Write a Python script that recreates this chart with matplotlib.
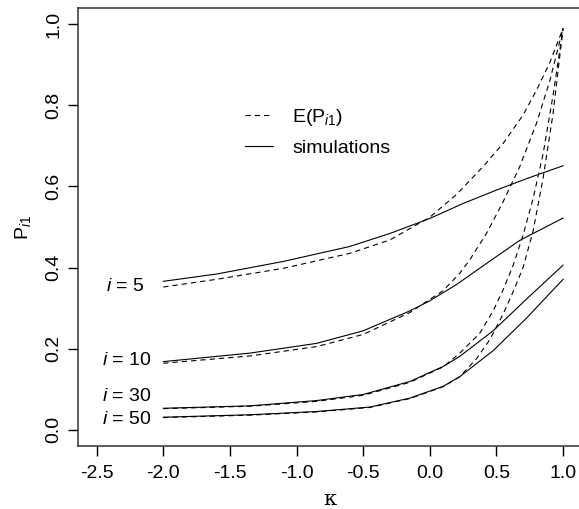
import matplotlib
matplotlib.use("Agg")
import matplotlib.pyplot as plt
from matplotlib.lines import Line2D

# values
# E(P_i1), dashed
k_e5 = [-2.0, -1.6, -1.1, -0.6, -0.3, 0.0, 0.2, 0.4, 0.55, 0.7, 0.8, 0.9, 1.0]
e5 = [0.352, 0.371, 0.398, 0.435, 0.468, 0.524, 0.580, 0.649, 0.706, 0.776, 0.837, 0.905, 0.99]
k_e10 = [-2.0, -1.35, -0.85, -0.5, -0.15, 0.1, 0.225, 0.3, 0.425, 0.55, 0.675, 0.8, 0.9, 1.0]
e10 = [0.164, 0.182, 0.205, 0.235, 0.289, 0.343, 0.386, 0.419, 0.484, 0.562, 0.649, 0.755, 0.86, 0.99]
k_e30 = [-2.0, -1.35, -0.85, -0.5, -0.15, 0.1, 0.225, 0.375, 0.475, 0.55, 0.625, 0.7, 0.775, 0.85, 0.925, 1.0]
e30 = [0.052, 0.058, 0.070, 0.085, 0.117, 0.155, 0.189, 0.238, 0.293, 0.345, 0.405, 0.480, 0.570, 0.680, 0.825, 0.99]
k_e50 = [-2.0, -1.35, -0.85, -0.45, -0.15, 0.1, 0.225, 0.35, 0.45, 0.55, 0.625, 0.7, 0.775, 0.85, 0.925, 1.0]
e50 = [0.030, 0.036, 0.044, 0.055, 0.077, 0.106, 0.131, 0.175, 0.222, 0.285, 0.34, 0.40, 0.49, 0.62, 0.78, 0.99]

# simulations, solid
k_s5 = [-2.0, -1.6, -1.1, -0.6, -0.3, 0.0, 0.25, 0.5, 0.75, 1.0]
s5 = [0.366, 0.384, 0.415, 0.452, 0.484, 0.521, 0.558, 0.591, 0.622, 0.651]
k_s10 = [-2.0, -1.35, -0.85, -0.5, -0.15, 0.0, 0.2, 0.425, 0.675, 1.0]
s10 = [0.168, 0.189, 0.213, 0.244, 0.293, 0.318, 0.358, 0.410, 0.467, 0.522]
k_s30 = [-2.0, -1.35, -0.85, -0.5, -0.15, 0.1, 0.225, 0.475, 0.725, 1.0]
s30 = [0.053, 0.059, 0.072, 0.087, 0.119, 0.156, 0.181, 0.244, 0.322, 0.406]
k_s50 = [-2.0, -1.35, -0.85, -0.45, -0.15, 0.1, 0.225, 0.475, 0.725, 1.0]
s50 = [0.031, 0.037, 0.045, 0.056, 0.078, 0.107, 0.131, 0.195, 0.275, 0.371]

labels = ["5", "10", "30", "50"]
label_pos = [(-2.14, 0.353), (-2.09, 0.172), (-2.09, 0.082), (-2.09, 0.026)]

xticks = [-2.5, -2.0, -1.5, -1.0, -0.5, 0.0, 0.5, 1.0]
yticks = [0.0, 0.2, 0.4, 0.6, 0.8, 1.0]

plt.rcParams['font.family'] = ['Liberation Sans', 'DejaVu Sans']
plt.rcParams['mathtext.fontset'] = 'custom'
plt.rcParams['mathtext.rm'] = 'Liberation Sans'
plt.rcParams['mathtext.it'] = 'Liberation Sans:italic'
plt.rcParams['lines.scale_dashes'] = False

fig = plt.figure(figsize=(5.79, 5.09), dpi=100)
ax = fig.add_axes([0.1347, 0.1238, 0.870, 0.8605])

dash = (0, (3.8, 2.9))
for k, e in [(k_e5, e5), (k_e10, e10), (k_e30, e30), (k_e50, e50)]:
    ax.plot(k, e, color='black', lw=0.8, linestyle=dash)
for k, s in [(k_s5, s5), (k_s10, s10), (k_s30, s30), (k_s50, s50)]:
    ax.plot(k, s, color='black', lw=0.8)

for lab, (x, y) in zip(labels, label_pos):
    ax.text(x, y, r'$\mathit{i}$ = ' + lab, ha='right', va='center', fontsize=14)

ax.set_xlim(-2.64, 1.14)
ax.set_ylim(-0.04, 1.04)
ax.set_xticks(xticks)
ax.set_xticklabels([f"{t:.1f}" for t in xticks])
ax.set_yticks(yticks)
ax.set_yticklabels([f"{t:.1f}" for t in yticks], rotation=90, va='center')
ax.tick_params(direction='out', length=7.5, width=1.0, labelsize=14, colors='black')
ax.tick_params(axis='x', pad=6)
ax.tick_params(axis='y', pad=4)
for sp in ax.spines.values():
    sp.set_linewidth(1.1)
    sp.set_color('#333333')

ax.set_xlabel('κ', fontsize=15, family='DejaVu Serif', labelpad=6)
ax.set_ylabel(r'P$_{\mathit{i}\mathrm{1}}$', fontsize=14, labelpad=9)

handles = [Line2D([], [], color='black', lw=0.8, linestyle=dash),
           Line2D([], [], color='black', lw=0.8)]
ax.legend(handles, [r'E(P$_{\mathit{i}\mathrm{1}}$)', 'simulations'],
          loc='center left', bbox_to_anchor=(0.331, 0.717), frameon=False,
          fontsize=14, handlelength=1.45, handletextpad=1.0, labelspacing=0.55,
          borderpad=0, borderaxespad=0)

fig.savefig('out.png', dpi=100)
